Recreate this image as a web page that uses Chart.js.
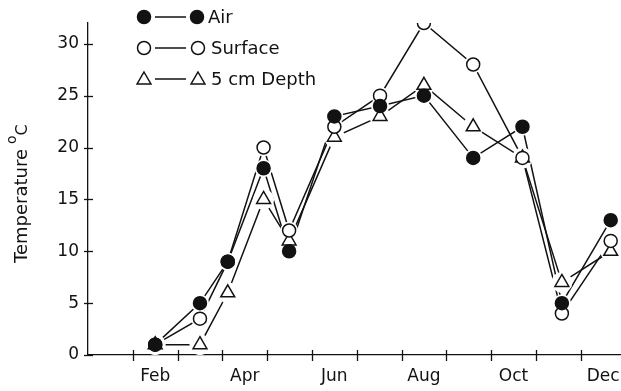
<!DOCTYPE html>
<html>
<head>
<meta charset="utf-8">
<script src="https://cdn.jsdelivr.net/npm/chart.js@4"></script>
<style>
  html, body { margin: 0; padding: 0; background: #fff; }
</style>
</head>
<body>
<canvas id="chart" width="621" height="391"></canvas>
<script>
// sampling dates, in months since 1 Jan
const months = [1.5, 2.5, 3.12, 3.92, 4.49, 5.5, 6.52, 7.5, 8.6, 9.7, 10.58, 11.67];
const airTemp = [1, 5, 9, 18, 10, 23, 24, 25, 19, 22, 5, 13];
const surfaceTemp = [1, 3.5, 9, 20, 12, 22, 25, 32, 28, 19, 4, 11];
const depthTemp = [1, 1, 6, 15, 11, 21, 23, 26, 22, 19, 7, 10];

const yTicks = [0, 5, 10, 15, 20, 25, 30];
const monthTicks = [1, 2, 3, 4, 5, 6, 7, 8, 9, 10, 11];
const monthLabels = ['Feb', 'Apr', 'Jun', 'Aug', 'Oct', 'Dec'];
const monthLabelPos = [1.5, 3.5, 5.5, 7.5, 9.5, 11.5];

const INK = '#121212';
const FONT = "'DejaVu Sans', sans-serif";
const LW = 1.5;

const series = [
  { label: 'Air', values: airTemp, style: 'circle', fill: INK, r: 6.5 },
  { label: 'Surface', values: surfaceTemp, style: 'circle', fill: '#fff', r: 6.5 },
  { label: '5 cm Depth', values: depthTemp, style: 'triangle', fill: '#fff', r: 8 }
];

const toPoints = vals => vals.map((v, i) => ({ x: months[i], y: v }));

// lines first, then white halos (gap around markers), then the markers
const datasets = [];
series.forEach(s => {
  datasets.push({
    data: toPoints(s.values), showLine: true, borderColor: INK, borderWidth: LW,
    pointRadius: 0, order: 3
  });
  datasets.push({
    data: toPoints(s.values), showLine: false, pointStyle: 'circle',
    pointRadius: s.r + 2.5, pointBackgroundColor: '#fff', pointBorderWidth: 0, order: 2
  });
  datasets.push({
    label: s.label, data: toPoints(s.values), showLine: false, pointStyle: s.style,
    pointRadius: s.r, pointBackgroundColor: s.fill, pointBorderColor: INK,
    pointBorderWidth: LW, order: 1
  });
});

function marker(ctx, style, fill, r, x, y) {
  ctx.beginPath();
  if (style === 'circle') {
    ctx.arc(x, y, r, 0, Math.PI * 2);
  } else {
    ctx.moveTo(x, y - r);
    ctx.lineTo(x + r * 0.866, y + r / 2);
    ctx.lineTo(x - r * 0.866, y + r / 2);
    ctx.closePath();
  }
  ctx.fillStyle = fill;
  ctx.fill();
  ctx.lineWidth = LW;
  ctx.strokeStyle = INK;
  ctx.stroke();
}

const extras = {
  id: 'extras',
  afterDraw(chart) {
    const ctx = chart.ctx;
    const xs = chart.scales.x, ys = chart.scales.y;
    ctx.save();
    ctx.strokeStyle = INK;
    ctx.lineWidth = 1.3;
    // tick marks crossing the axes
    const y0 = ys.getPixelForValue(0);
    monthTicks.forEach(m => {
      const px = Math.round(xs.getPixelForValue(m)) + 0.5;
      ctx.beginPath(); ctx.moveTo(px, y0 - 5); ctx.lineTo(px, y0 + 6); ctx.stroke();
    });
    const x0 = xs.getPixelForValue(0);
    yTicks.forEach(v => {
      const py = Math.round(ys.getPixelForValue(v)) + 0.5;
      ctx.beginPath(); ctx.moveTo(x0 - 4, py); ctx.lineTo(x0 + 5, py); ctx.stroke();
    });

    // legend
    const rows = [17, 48, 79];
    series.forEach((s, i) => {
      const y = rows[i];
      ctx.beginPath(); ctx.moveTo(155, y); ctx.lineTo(186, y);
      ctx.lineWidth = LW; ctx.strokeStyle = INK; ctx.stroke();
      marker(ctx, s.style, s.fill, s.r, 144, s.style === 'triangle' ? y + 1 : y);
      marker(ctx, s.style, s.fill, s.r, i === 0 ? 197 : 198, s.style === 'triangle' ? y + 1 : y);
      ctx.fillStyle = INK;
      ctx.font = '18px ' + FONT;
      ctx.textBaseline = 'middle';
      ctx.textAlign = 'left';
      ctx.fillText(s.label, i === 0 ? 208 : 211, y + 1);
    });

    // y axis title: Temperature °C
    ctx.translate(27, 263);
    ctx.rotate(-Math.PI / 2);
    ctx.fillStyle = INK;
    ctx.textBaseline = 'alphabetic';
    ctx.textAlign = 'left';
    ctx.font = '18px ' + FONT;
    const word = 'Temperature';
    const w1 = ctx.measureText(word).width;
    ctx.fillText(word, 0, 0);
    ctx.font = '14px ' + FONT;
    ctx.fillText('o', w1 + 5, -11);
    const wo = ctx.measureText('o').width;
    ctx.font = '16px ' + FONT;
    ctx.fillText('C', w1 + 5 + wo, 0);
    ctx.restore();
  }
};

new Chart(document.getElementById('chart'), {
  type: 'scatter',
  data: { datasets },
  options: {
    responsive: false,
    devicePixelRatio: 1,
    animation: false,
    layout: { autoPadding: false, padding: { top: 23, right: 0, left: 0, bottom: 0 } },
    plugins: { legend: { display: false }, tooltip: { enabled: false } },
    scales: {
      x: {
        type: 'linear', min: 0, max: 11.9,
        afterBuildTicks: s => { s.ticks = monthLabelPos.map(v => ({ value: v })); },
        afterFit: s => { s.height = 36; s.paddingLeft = 0; s.paddingRight = 0; },
        grid: { display: false, drawTicks: false },
        border: { display: true, color: INK, width: 1.3 },
        ticks: {
          padding: 11, color: INK, maxRotation: 0, autoSkip: false,
          font: { family: FONT, size: 17 },
          callback: v => monthLabels[monthLabelPos.indexOf(v)]
        }
      },
      y: {
        min: 0, max: 32,
        afterBuildTicks: s => { s.ticks = yTicks.map(v => ({ value: v })); },
        afterFit: s => { s.width = 88; s.paddingTop = 0; s.paddingBottom = 0; },
        grid: { display: false, drawTicks: false },
        border: { display: true, color: INK, width: 1.3 },
        ticks: { padding: 9, color: INK, font: { family: FONT, size: 17 } }
      }
    }
  },
  plugins: [extras]
});
</script>
</body>
</html>
